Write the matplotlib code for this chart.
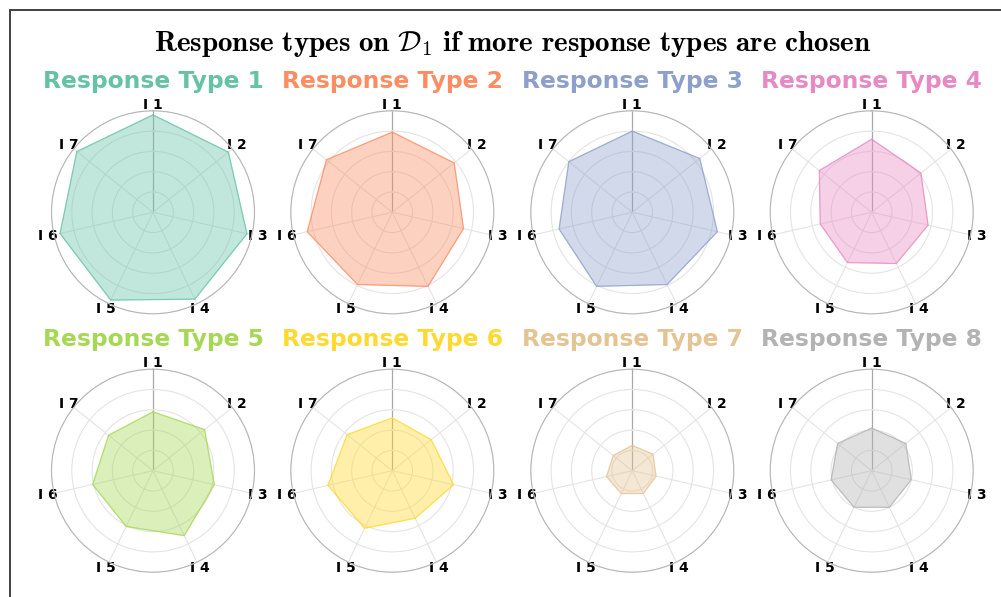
import numpy as np
import matplotlib
matplotlib.use("Agg")
import matplotlib.pyplot as plt
from matplotlib.patches import Rectangle

plt.rcParams['mathtext.fontset'] = 'cm'

categories = ['I 1', 'I 2', 'I 3', 'I 4', 'I 5', 'I 6', 'I 7']
titles = ['Response Type 1', 'Response Type 2', 'Response Type 3', 'Response Type 4',
          'Response Type 5', 'Response Type 6', 'Response Type 7', 'Response Type 8']
colors = ['#66c2a5', '#fc8d62', '#8da0cb', '#e78ac3',
          '#a6d854', '#ffd92f', '#e5c494', '#b3b3b3']

rt1 = [0.96, 0.95, 0.95, 0.95, 0.96, 0.94, 0.96]
rt2 = [0.79, 0.78, 0.72, 0.81, 0.79, 0.86, 0.83]
rt3 = [0.80, 0.85, 0.86, 0.79, 0.81, 0.74, 0.80]
rt4 = [0.72, 0.62, 0.57, 0.56, 0.55, 0.52, 0.66]
rt5 = [0.58, 0.65, 0.62, 0.71, 0.61, 0.61, 0.56]
rt6 = [0.52, 0.49, 0.62, 0.52, 0.63, 0.65, 0.57]
rt7 = [0.25, 0.26, 0.24, 0.25, 0.25, 0.26, 0.24]
rt8 = [0.42, 0.43, 0.40, 0.40, 0.40, 0.41, 0.43]
series = [rt1, rt2, rt3, rt4, rt5, rt6, rt7, rt8]

W, H = 1001, 597
fig = plt.figure(figsize=(W / 100, H / 100), dpi=100)

# frame (cropped figure border)
fig.add_artist(Rectangle((10 / W, -0.1), 1.2, 1.1 - 10 / H, transform=fig.transFigure,
                         fill=False, edgecolor='#333333', linewidth=1.3, clip_on=False))

fig.text(512.5 / W, 1 - 50.7 / H,
         r'$\mathbf{Response\ types\ on\ }\mathcal{D}_1\mathbf{\ if\ more\ response\ types\ are\ chosen}$',
         ha='center', va='baseline', fontsize=21)

cxs = [153, 392.3, 632.3, 871.7]
cys = [212.3, 470.7]
R = 101.5

n = len(categories)
angles = np.linspace(0, 2 * np.pi, n, endpoint=False)

for i, (vals, title, col) in enumerate(zip(series, titles, colors)):
    cx = cxs[i % 4]
    cy = cys[i // 4]
    ax = fig.add_axes([(cx - R) / W, 1 - (cy + R) / H, 2 * R / W, 2 * R / H], polar=True)
    ax.set_theta_offset(np.pi / 2)
    ax.set_theta_direction(-1)
    a = np.concatenate([angles, angles[:1]])
    v = np.concatenate([vals, vals[:1]])
    ax.fill(a, v, color=col, alpha=0.4, zorder=2)
    ax.plot(a, v, color=col, linewidth=0.7, alpha=0.75, zorder=3)
    ax.set_ylim(0, 1)
    ax.set_yticks([0.2, 0.4, 0.6, 0.8, 1.0])
    ax.set_yticklabels([])
    ax.set_xticks(angles)
    ax.set_xticklabels(categories, fontsize=10, fontweight='bold')
    ax.tick_params(axis='x', pad=-6)
    ax.grid(True, color='#e4e4e4', linewidth=0.8)
    ax.spines['polar'].set_color('#b5b5b5')
    ax.spines['polar'].set_linewidth(0.8)
    gl = ax.xaxis.get_gridlines()
    gl[0].set_color('#a8a8a8')
    gl[0].set_linewidth(0.9)
    gl[0].set_zorder(4)
    ax.set_title(title, fontsize=16.8, fontweight='bold', color=col, y=1.113, pad=0)

fig.savefig('out.png', dpi=100)
